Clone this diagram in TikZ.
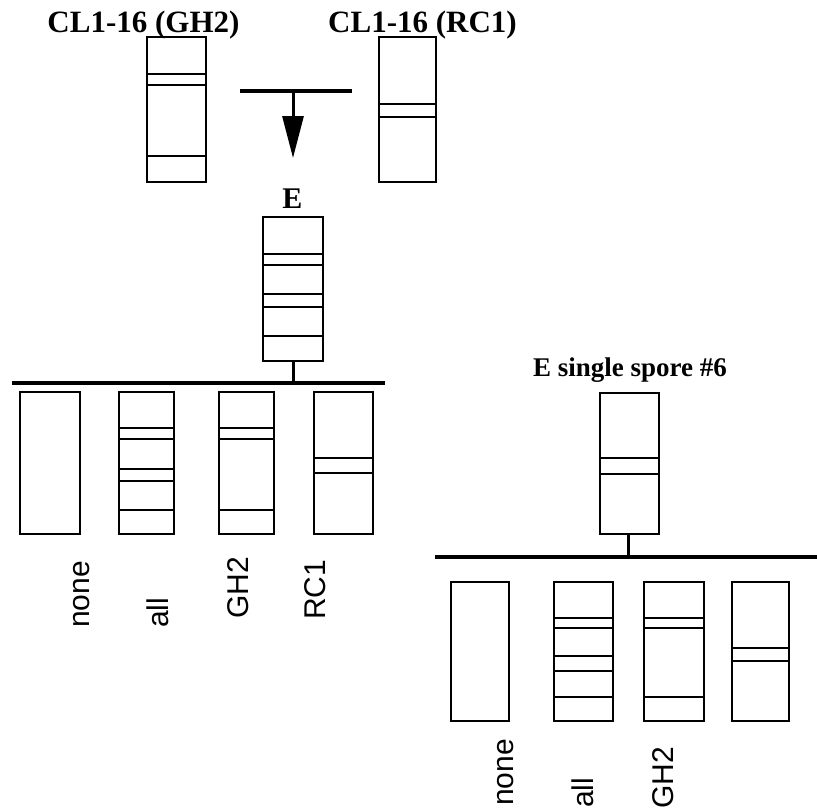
\documentclass[tikz,border=0pt]{standalone}
\usepackage{fontspec}
\setmainfont{Liberation Serif}
\setsansfont{Liberation Sans}
\usetikzlibrary{arrows.meta}
\begin{document}
\begin{tikzpicture}[x=1pt,y=-1pt,
  lane/.style={draw, line width=1.9pt, inner sep=0pt, minimum height=#1},
  band/.style={line width=1.9pt},
  bar/.style={line width=4pt},
  stem/.style={line width=3pt},
  title/.style={font=\fontsize{31}{36}\selectfont\bfseries, inner sep=0pt},
  sublabel/.style={font=\fontsize{30}{34}\selectfont\bfseries, inner sep=0pt},
  lbl/.style={font=\sffamily\fontsize{30}{34}\selectfont, rotate=90, anchor=base west, inner sep=0pt}]
\useasboundingbox (0,0) rectangle (817,808);

% parents
\node[title, anchor=base] (t1) at (143.5,33) {CL1-16 (GH2)};
\node[title, anchor=base] (t2) at (422.5,33) {CL1-16 (RC1)};
\node[lane=145pt, minimum width=59pt] (p1) at (176.5,109.5) {};
\draw[band] (147,74) -- (206,74) (147,85) -- (206,85) (147,156) -- (206,156);
\node[lane=145pt, minimum width=57pt] (p2) at (407.5,109.5) {};
\draw[band] (379,104) -- (436,104) (379,117) -- (436,117);

% cross
\coordinate (cl) at (240,91);
\coordinate (cr) at (352,91);
\coordinate (cm) at (293,91);
\coordinate (ce) at (293,158);
\draw[bar] (cl) -- (cr);
\draw[stem, -{Triangle[length=42pt,width=21pt]}] (cm) -- (ce);

% E
\node[sublabel, anchor=base] (elab) at (292.5,208) {E};
\node[lane=144pt, minimum width=60pt] (E) at (293,289) {};
\draw[band] (263,254) -- (323,254) (263,265) -- (323,265) (263,294) -- (323,294)
  (263,307) -- (323,307) (263,336) -- (323,336);

\coordinate (bl1) at (12,383);
\coordinate (br1) at (385,383);
\coordinate (bm1) at (293,383);
\draw[bar] (bl1) -- (br1);
\draw[stem] (E.south) -- (bm1);

% left progeny
\node[lane=142pt, minimum width=60pt] (L1) at (50,463) {};
\node[lane=142pt, minimum width=55pt] (L2) at (146.5,463) {};
\draw[band] (119,428) -- (174,428) (119,439) -- (174,439) (119,469) -- (174,469)
  (119,481) -- (174,481) (119,510) -- (174,510);
\node[lane=142pt, minimum width=55pt] (L3) at (246.5,463) {};
\draw[band] (219,428) -- (274,428) (219,439) -- (274,439) (219,510) -- (274,510);
\node[lane=142pt, minimum width=59pt] (L4) at (343.5,463) {};
\draw[band] (314,458) -- (373,458) (314,473) -- (373,473);

\node[lbl] (n1) at (89,628) {none};
\node[lbl] (n2) at (168,628) {all};
\node[lbl] (n3) at (248,619) {GH2};
\node[lbl] (n4) at (325,620) {RC1};

% single spore
\node[title, font=\fontsize{27}{32}\selectfont\bfseries, anchor=base west] (slab) at (533,376) {E single spore \#6};
\node[lane=141pt, minimum width=59pt] (S) at (629.5,463.5) {};
\draw[band] (600,458) -- (659,458) (600,474) -- (659,474);

\coordinate (bl2) at (435,557);
\coordinate (br2) at (817,557);
\coordinate (bm2) at (628,557);
\draw[bar] (bl2) -- (br2);
\draw[stem] (S.south -| bm2) -- (bm2);

% right progeny
\node[lane=139pt, minimum width=58pt] (R1) at (480,651.5) {};
\node[lane=139pt, minimum width=59pt] (R2) at (583.5,651.5) {};
\draw[band] (554,618) -- (613,618) (554,628) -- (613,628) (554,656) -- (613,656)
  (554,671) -- (613,671) (554,697) -- (613,697);
\node[lane=139pt, minimum width=60pt] (R3) at (674,651.5) {};
\draw[band] (644,618) -- (704,618) (644,628) -- (704,628) (644,697) -- (704,697);
\node[lane=139pt, minimum width=57pt] (R4) at (760.5,651.5) {};
\draw[band] (732,648) -- (789,648) (732,661) -- (789,661);

\node[lbl] (m1) at (513,806) {none};
\node[lbl] (m2) at (593,808) {all};
\node[lbl] (m3) at (673,809) {GH2};
\end{tikzpicture}
\end{document}
